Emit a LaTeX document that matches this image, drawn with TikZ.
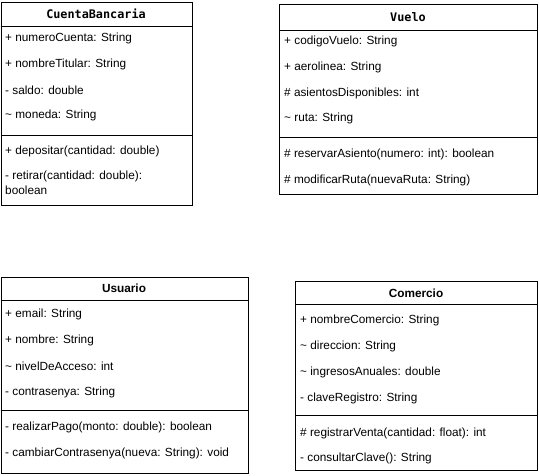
\documentclass[tikz,border=0pt]{standalone}
\usepackage{fontspec}
\setmainfont{Liberation Sans}
\newfontfamily\codefont{DejaVu Sans Mono}
\usetikzlibrary{positioning}

\begin{document}
\begin{tikzpicture}[
  x=1pt, y=-1pt,
  every node/.style={font=\fontsize{11.8}{15}\selectfont},
  classbox/.style={draw, line width=0.9pt, anchor=north west, inner sep=0pt},
  member/.style={anchor=west, inner sep=0pt, align=left},
  cname/.style={font=\fontsize{11.8}{13}\selectfont\bfseries},
  cnamecode/.style={font=\fontsize{11.8}{13}\selectfont\codefont\bfseries},
  sepline/.style={line width=0.9pt}
]
  \useasboundingbox (0,0) rectangle (539,475);

  % CuentaBancaria
  \node[classbox, minimum width=191pt, minimum height=203pt] (cb) at (0.5,2) {};
  \node[cnamecode] (cbt) at (96,14) {CuentaBancaria};
  \draw[sepline] (cb.west |- 0,26) -- (cb.east |- 0,26);
  \draw[sepline] (cb.west |- 0,135) -- (cb.east |- 0,135);
  \foreach \t [count=\i] in {{+ numeroCuenta: String}, {+ nombreTitular: String},
      {- saldo: double}, {\textasciitilde{} moneda: String}}
    \node[member] (cba\i) at (5, 13 + \i*25.7) {\t};
  \node[member] (cbm1) at (5,151) {+ depositar(cantidad: double)};
  \node[member] (cbm2) at (5,182.5) {- retirar(cantidad: double):\\boolean};

  % Vuelo
  \node[classbox, minimum width=258pt, minimum height=190pt] (vu) at (279,4) {};
  \node[cnamecode] (vut) at (408,17) {Vuelo};
  \draw[sepline] (vu.west |- 0,30) -- (vu.east |- 0,30);
  \draw[sepline] (vu.west |- 0,137) -- (vu.east |- 0,137);
  \foreach \t [count=\i] in {{+ codigoVuelo: String}, {+ aerolinea: String},
      {\# asientosDisponibles: int}, {\textasciitilde{} ruta: String}}
    \node[member] (vua\i) at (284, 16 + \i*25.7) {\t};
  \node[member] (vum1) at (284,154) {\# reservarAsiento(numero: int): boolean};
  \node[member] (vum2) at (284,180) {\# modificarRuta(nuevaRuta: String)};

  % Usuario
  \node[classbox, minimum width=247.5pt, minimum height=196pt] (us) at (0.5,277) {};
  \node[cname] (ust) at (124,288.5) {Usuario};
  \draw[sepline] (us.west |- 0,300) -- (us.east |- 0,300);
  \draw[sepline] (us.west |- 0,410) -- (us.east |- 0,410);
  \foreach \t [count=\i] in {{+ email: String}, {+ nombre: String},
      {\textasciitilde{} nivelDeAcceso: int}, {- contrasenya: String}}
    \node[member] (usa\i) at (5, 288 + \i*26) {\t};
  \node[member] (usm1) at (5,427) {- realizarPago(monto: double): boolean};
  \node[member] (usm2) at (5,453) {- cambiarContrasenya(nueva: String): void};

  % Comercio
  \node[classbox, minimum width=242pt, minimum height=189pt] (co) at (295,281) {};
  \node[cname] (cot) at (416,293.5) {Comercio};
  \draw[sepline] (co.west |- 0,304) -- (co.east |- 0,304);
  \draw[sepline] (co.west |- 0,415) -- (co.east |- 0,415);
  \foreach \t [count=\i] in {{+ nombreComercio: String}, {\textasciitilde{} direccion: String},
      {\textasciitilde{} ingresosAnuales: double}, {- claveRegistro: String}}
    \node[member] (coa\i) at (300, 294 + \i*26) {\t};
  \node[member] (com1) at (300,433) {\# registrarVenta(cantidad: float): int};
  \node[member] (com2) at (300,458) {- consultarClave(): String};
\end{tikzpicture}
\end{document}
